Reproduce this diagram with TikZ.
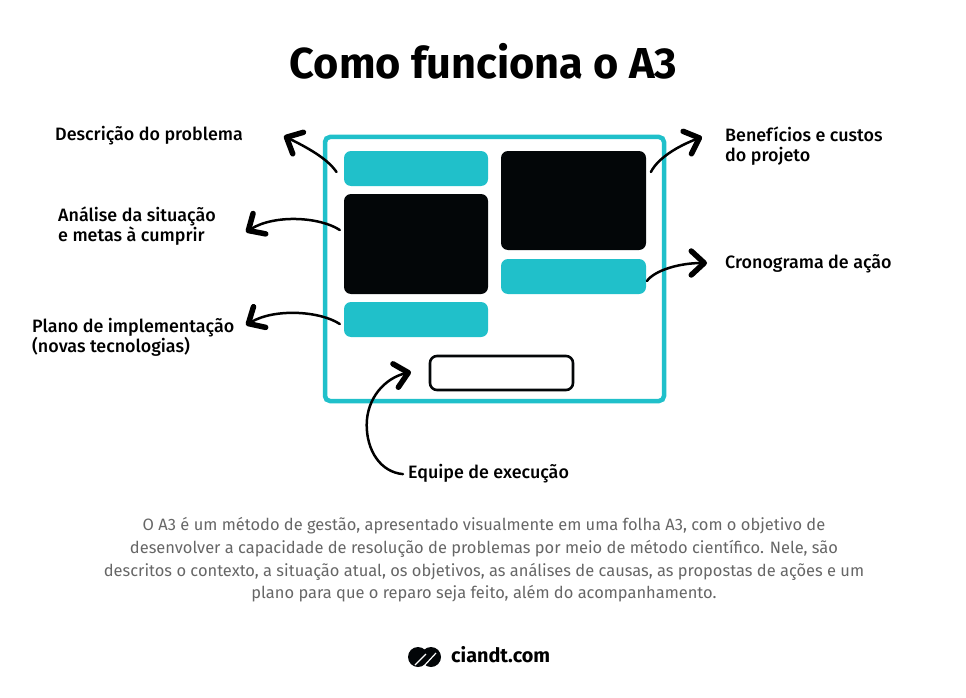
\documentclass[tikz,border=0pt]{standalone}
\usepackage{fontspec}
\usetikzlibrary{arrows.meta}
\setmainfont{Fira Sans}
\newfontfamily\labelfont{Fira Sans Medium}
\definecolor{sheetteal}{HTML}{20C0CA}
\definecolor{sheetblack}{HTML}{030608}
\definecolor{bodygray}{HTML}{666666}
\tikzset{
  block/.style={minimum width=#1,inner sep=0pt,rounded corners=7pt},
  labeltext/.style={anchor=base west,inner sep=0pt,align=left,font=\fontsize{17.9}{20}\labelfont\selectfont},
  callout/.style={line width=2.5pt,line cap=round,-{Straight Barb[length=13pt,width=24pt,line width=5.5pt,round]}}
}
\begin{document}
\begin{tikzpicture}[x=1pt,y=-1pt]
  \useasboundingbox (0,0) rectangle (966,698);
  \node (title) at (483.5,61.5) {\fontsize{43.3}{48}\selectfont\bfseries Como funciona o A3};
  % the sheet
  \node[draw=sheetteal,line width=4.5pt,rounded corners=5pt,minimum width=339pt,minimum height=264pt,inner sep=0pt] (sheet) at (494.5,269) {};
  \node[block=144pt,minimum height=35pt,fill=sheetteal] (problemBox) at (416,168.5) {};
  \node[block=144pt,minimum height=100pt,fill=sheetblack] (analysisBox) at (416,244) {};
  \node[block=144pt,minimum height=35pt,fill=sheetteal] (planBox) at (416,319.5) {};
  \node[block=145pt,minimum height=99pt,fill=sheetblack] (benefitBox) at (573.5,200.5) {};
  \node[block=145pt,minimum height=35pt,fill=sheetteal] (scheduleBox) at (573.5,276.5) {};
  \node[block=143pt,minimum height=34pt,draw=sheetblack,line width=2.6pt] (teamBox) at (501.5,373) {};
  % labels
  \node[labeltext] (problemLabel) at (55,141) {Descrição do problema};
  \node[labeltext] (analysisLabel) at (58,241) {Análise da situação\\e metas à cumprir};
  \node[labeltext] (planLabel) at (32,352) {Plano de implementação\\(novas tecnologias)};
  \node[labeltext] (benefitLabel) at (725,161) {Benefícios e custos\\do projeto};
  \node[labeltext] (scheduleLabel) at (725,268) {Cronograma de ação};
  \node[labeltext] (teamLabel) at (408,478) {Equipe de execução};
  % arrow tips
  \coordinate (problemTip) at (284,136);
  \coordinate (analysisTip) at (246,232);
  \coordinate (planTip) at (246,325);
  \coordinate (benefitTip) at (702,137);
  \coordinate (scheduleTip) at (707,263);
  \coordinate (teamTip) at (411,372);
  \draw[callout] ([xshift=-7.3pt,yshift=-3.5pt]problemBox.west) .. controls (327,158) and (306,147) .. (problemTip);
  \draw[callout] ([xshift=-4pt,yshift=14pt]analysisBox.west) .. controls (320,217) and (275,214) .. (analysisTip);
  \draw[callout] ([xshift=-4pt,yshift=-4.5pt]planBox.west) .. controls (320,311) and (275,308) .. (planTip);
  \draw[callout] ([xshift=4.7pt,yshift=28.5pt]benefitBox.east) .. controls (658,158) and (678,146) .. (benefitTip);
  \draw[callout] ([xshift=.7pt,yshift=-4.5pt]scheduleBox.east) .. controls (655,270) and (680,263) .. (scheduleTip);
  \draw[callout] ([xshift=-5pt,yshift=-1pt]teamLabel.west) .. controls (380,472) and (366.7,450) .. (366.7,425) .. controls (366.7,398) and (385,378) .. (teamTip);
  % text below
  \node[text=bodygray,align=center,inner sep=0pt,font=\fontsize{16.45}{22.7}\selectfont] (bodyText) at (484,560) {O A3 é um método de gestão, apresentado visualmente em uma folha A3, com o objetivo de\\desenvolver a capacidade de resolução de problemas por meio de método científico. Nele, são\\descritos o contexto, a situação atual, os objetivos, as análises de causas, as propostas de ações e um\\plano para que o reparo seja feito, além do acompanhamento.};
  % logo
  \fill[sheetblack] (418,657) circle (10pt);
  \fill[sheetblack] (431,657) circle (10pt);
  \draw[white,line width=1.2pt] (415,665) -- (426,654);
  \draw[white,line width=1.2pt] (424,666) -- (436,653);
  \node[anchor=base west,inner sep=0pt,font=\fontsize{19.8}{22}\selectfont\bfseries] (logoText) at (451,662) {ciandt.com};
\end{tikzpicture}
\end{document}
